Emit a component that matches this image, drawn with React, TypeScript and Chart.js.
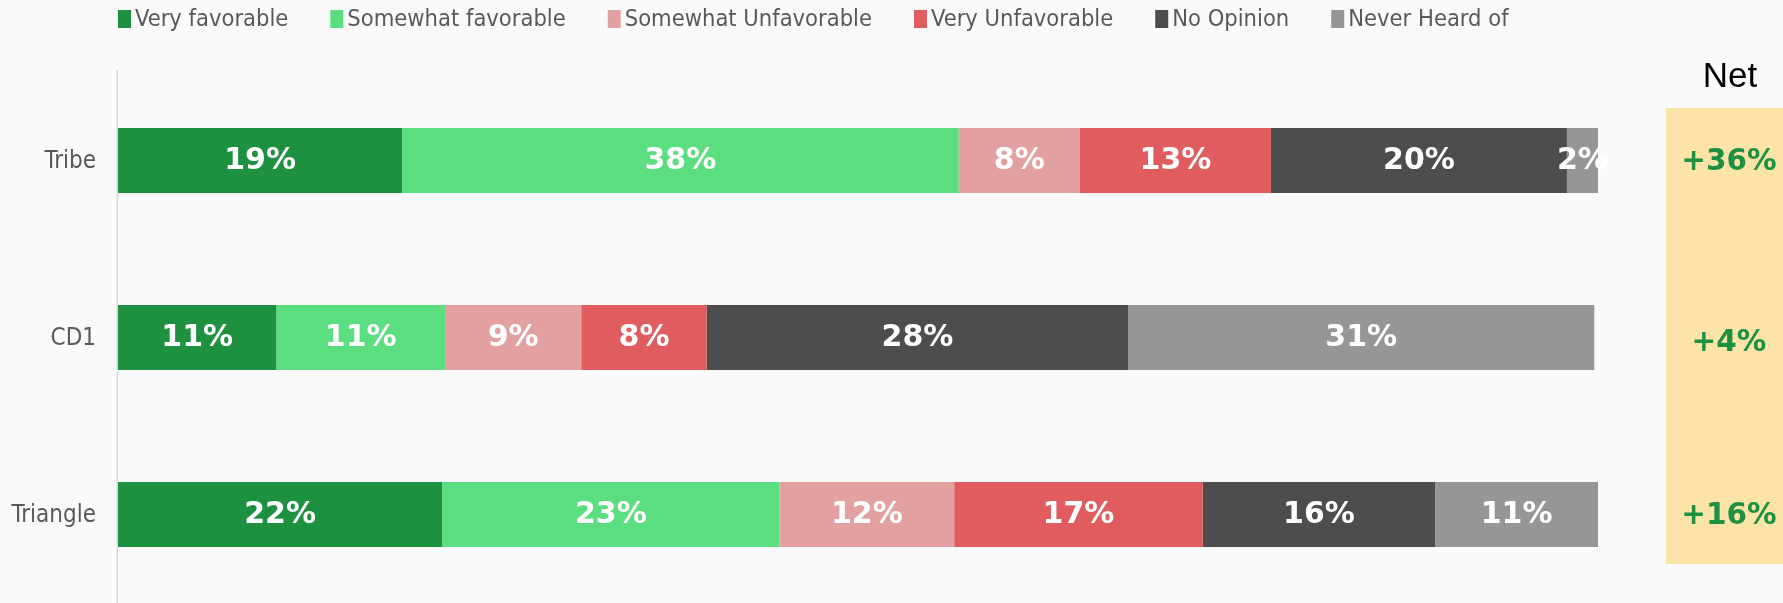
import React, { useEffect, useRef } from "react";
import { Chart, registerables } from "chart.js";

Chart.register(...registerables);

const categories = ["Tribe", "CD1", "Triangle"];
const seriesNames = [
  "Very favorable",
  "Somewhat favorable",
  "Somewhat Unfavorable",
  "Very Unfavorable",
  "No Opinion",
  "Never Heard of",
];
const seriesColors = ["#1E9140", "#5BDE7F", "#E3A0A0", "#E05C5E", "#4D4D4D", "#969696"];

const veryFavorable = [19.2, 10.7, 21.9];
const somewhatFavorable = [37.6, 11.4, 22.8];
const somewhatUnfavorable = [8.2, 9.2, 11.8];
const veryUnfavorable = [12.9, 8.48, 16.8];
const noOpinion = [20.0, 28.48, 15.7];
const neverHeard = [2.1, 31.49, 11.0];
const netValues = [36, 4, 16];
const netTitle = "Net";

const seriesValues = [
  veryFavorable,
  somewhatFavorable,
  somewhatUnfavorable,
  veryUnfavorable,
  noOpinion,
  neverHeard,
];

const REG_FONT = "'DejaVu Sans Condensed', 'DejaVu Sans', sans-serif";
const BOLD_FONT = "'DejaVu Sans', sans-serif";

const bgPlugin = {
  id: "bgFill",
  beforeDraw(chart: any) {
    const ctx = chart.ctx;
    ctx.save();
    ctx.fillStyle = "#FAFAFA";
    ctx.fillRect(0, 0, chart.width, chart.height);
    // y axis line running to the bottom of the canvas
    ctx.strokeStyle = "#D9D9D9";
    ctx.lineWidth = 1.5;
    ctx.beginPath();
    const x = chart.chartArea.left - 0.75;
    ctx.moveTo(x, 70);
    ctx.lineTo(x, chart.height);
    ctx.stroke();
    // category labels
    ctx.font = `24px ${REG_FONT}`;
    ctx.fillStyle = "#595959";
    ctx.textAlign = "right";
    ctx.textBaseline = "middle";
    const yScale = chart.scales.y;
    (chart.data.labels as string[]).forEach((lab: string, i: number) => {
      ctx.fillText(lab, chart.chartArea.left - 22, yScale.getPixelForValue(i) + 1);
    });
    ctx.restore();
  },
};

const legendPlugin = {
  id: "customLegend",
  afterDraw(chart: any) {
    const ctx = chart.ctx;
    ctx.save();
    ctx.font = `23.5px ${REG_FONT}`;
    ctx.textBaseline = "middle";
    ctx.textAlign = "left";
    let x = chart.chartArea.left;
    const y = 19;
    chart.data.datasets.forEach((ds: any) => {
      ctx.fillStyle = ds.backgroundColor;
      ctx.fillRect(x, y - 9, 13, 18);
      ctx.fillStyle = "#595959";
      ctx.fillText(ds.label, x + 17, y + 1);
      const w = ctx.measureText(ds.label).width;
      x += 17 + w + 42;
    });
    ctx.restore();
  },
};

const labelPlugin = {
  id: "segLabels",
  afterDatasetsDraw(chart: any) {
    const ctx = chart.ctx;
    ctx.save();
    ctx.font = `bold 30px ${BOLD_FONT}`;
    ctx.fillStyle = "#FFFFFF";
    ctx.textAlign = "center";
    ctx.textBaseline = "middle";
    chart.data.datasets.forEach((ds: any, di: number) => {
      const meta = chart.getDatasetMeta(di);
      meta.data.forEach((bar: any, i: number) => {
        const v = ds.data[i];
        const cx = (bar.x + bar.base) / 2;
        ctx.fillText(Math.round(v) + "%", cx, bar.y + 1);
      });
    });

    // Net column
    const left = 1666;
    ctx.fillStyle = "#FCE3A8";
    ctx.fillRect(left, 108, chart.width - left, 456);
    ctx.fillStyle = "#000000";
    ctx.font = `35px 'Liberation Sans', Arial, sans-serif`;
    ctx.fillText(netTitle, 1730, 77);
    ctx.font = `bold 29.5px ${BOLD_FONT}`;
    ctx.fillStyle = "#1E9140";
    const yScale = chart.scales.y;
    netValues.forEach((v, i) => {
      const y = yScale.getPixelForValue(i);
      ctx.fillText((v >= 0 ? "+" : "") + v + "%", 1729, y + (i === 1 ? 6 : 2));
    });
    ctx.restore();
  },
};

export default function App() {
  const ref = useRef<HTMLCanvasElement>(null);
  useEffect(() => {
    document.body.style.margin = "0";
    document.body.style.background = "#FAFAFA";
    const chart = new Chart(ref.current as HTMLCanvasElement, {
      type: "bar",
      data: {
        labels: categories,
        datasets: seriesNames.map((name, i) => ({
          label: name,
          data: seriesValues[i],
          backgroundColor: seriesColors[i],
          borderWidth: 0,
          categoryPercentage: 1,
          barPercentage: 0.366,
        })),
      },
      options: {
        indexAxis: "y",
        animation: false,
        responsive: false,
        devicePixelRatio: 1,
        layout: { padding: { top: 72, right: 185, bottom: -3, left: 0 } },
        plugins: {
          legend: { display: false },
          tooltip: { enabled: false },
        },
        scales: {
          x: { stacked: true, min: 0, max: 100, display: false },
          y: {
            stacked: true,
            afterFit(scale: any) {
              scale.width = 118;
            },
            grid: { display: false, drawTicks: false },
            border: { display: false },
            ticks: { display: false },
          },
        },
      } as any,
      plugins: [bgPlugin, legendPlugin, labelPlugin],
    });
    return () => chart.destroy();
  }, []);
  return (
    <div style={{ width: 1783, height: 603, position: "relative" }}>
      <canvas ref={ref} width={1783} height={603} style={{ display: "block" }} />
    </div>
  );
}
